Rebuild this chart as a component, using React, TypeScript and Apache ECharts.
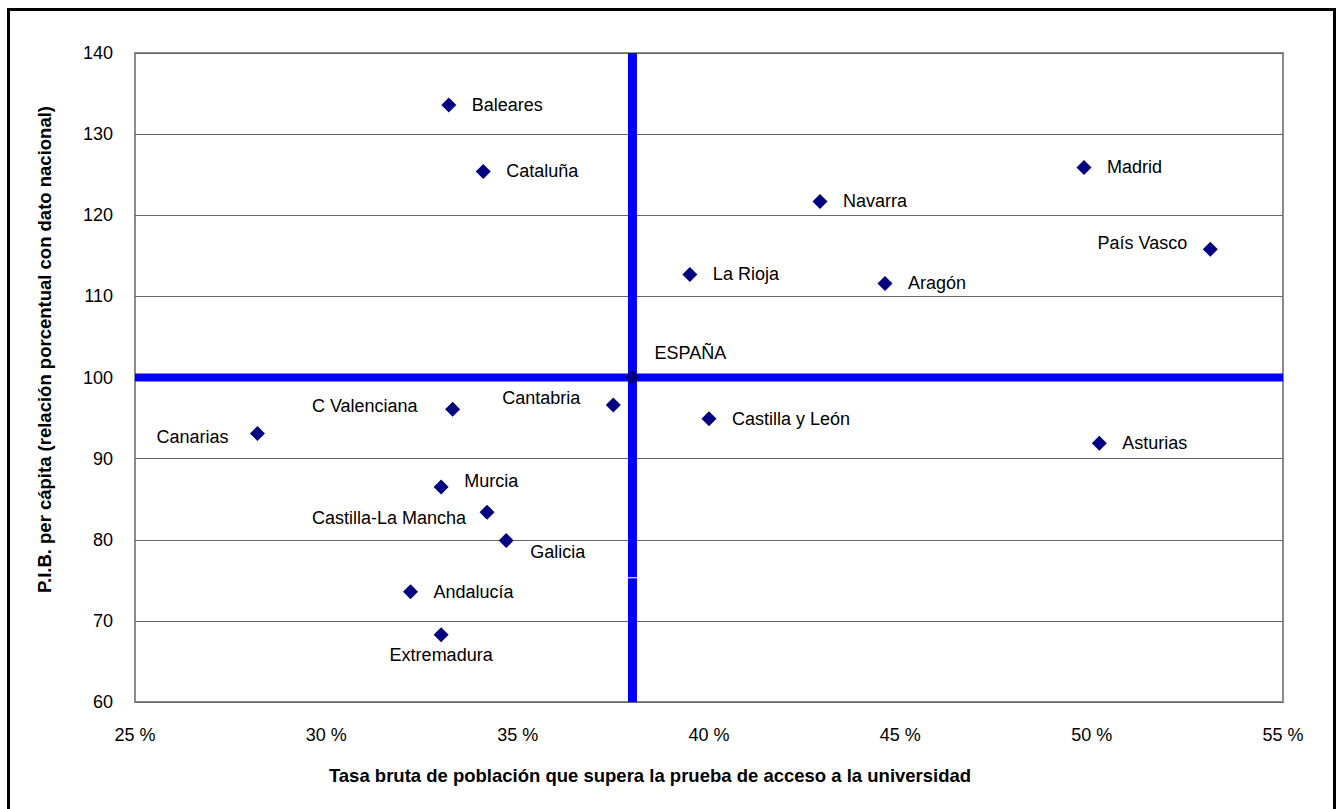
import React, { useEffect, useRef } from "react";
import * as echarts from "echarts";

const regions = [
  "Baleares", "Cataluña", "Madrid", "Navarra", "País Vasco", "La Rioja", "Aragón",
  "Cantabria", "C Valenciana", "Canarias", "Castilla y León", "Asturias", "Murcia",
  "Castilla-La Mancha", "Galicia", "Andalucía", "Extremadura",
];
const accessRate = [
  33.2, 34.1, 49.8, 42.9, 53.1, 39.5, 44.6,
  37.5, 33.3, 28.2, 40.0, 50.2, 33.0,
  34.2, 34.7, 32.2, 33.0,
];
const gdpIndex = [
  133.6, 125.4, 125.9, 121.7, 115.8, 112.7, 111.6,
  96.6, 96.1, 93.1, 94.9, 91.9, 86.5,
  83.4, 79.9, 73.6, 68.3,
];
const spainLabel = "ESPAÑA";
const spainX = 38;
const spainY = 100;
const xTicks = [25, 30, 35, 40, 45, 50, 55];
const yTicks = [60, 70, 80, 90, 100, 110, 120, 130, 140];
const verticalBreak = 75.3;

const labelPlacement: Record<string, any> = {
  "País Vasco": { position: "left", distance: 15.5, offset: [0, -6] },
  "Cantabria": { position: "left", distance: 25.5, offset: [0, -7] },
  "C Valenciana": { position: "left", distance: 27.5, offset: [0, -3] },
  "Canarias": { position: "left", distance: 21.5, offset: [0, 4] },
  "Murcia": { position: "right", distance: 15.5, offset: [0, -6] },
  "Castilla-La Mancha": { position: "left", distance: 13.5, offset: [0, 6] },
  "Galicia": { position: "right", distance: 16.5, offset: [0, 11] },
  "Extremadura": { position: "bottom", distance: 3.5, offset: [0, 0] },
  "ESPAÑA": { position: "right", distance: 14.5, offset: [0, -25] },
};

const FONT = "'Liberation Sans', Arial, sans-serif";

export default function App() {
  const ref = useRef<HTMLDivElement>(null);
  useEffect(() => {
    if (!ref.current) return;
    const chart = echarts.init(ref.current, undefined, { renderer: "svg" });
    const pointLabel = (name: string) => {
      const p = labelPlacement[name] || { position: "right", distance: 15.5, offset: [0, 0] };
      return {
        show: true,
        formatter: name,
        position: p.position,
        distance: p.distance,
        offset: p.offset,
        color: "#000",
        fontSize: 18,
        fontFamily: FONT,
      };
    };
    const points = regions.map((name, i) => ({
      name,
      value: [accessRate[i], gdpIndex[i]],
      label: pointLabel(name),
    }));
    points.push({
      name: spainLabel,
      value: [spainX, spainY],
      label: pointLabel(spainLabel),
    });
    const xMin = xTicks[0];
    const xMax = xTicks[xTicks.length - 1];
    const yMin = yTicks[0];
    const yMax = yTicks[yTicks.length - 1];
    chart.setOption({
      animation: false,
      backgroundColor: "#fff",
      textStyle: { fontFamily: FONT },
      grid: {
        left: 135,
        top: 53,
        right: 56,
        bottom: 107,
        show: true,
        borderColor: "#8c8c8c",
        borderWidth: 2,
        containLabel: false,
      },
      graphic: [
        {
          type: "rect",
          shape: { x: 8.5, y: 9.5, width: 1326, height: 850 },
          style: { fill: "none", stroke: "#000", lineWidth: 3 },
          silent: true,
        },
      ],
      xAxis: {
        type: "value",
        min: xMin,
        max: xMax,
        interval: 5,
        name: "Tasa bruta de población que supera la prueba de acceso a la universidad",
        nameLocation: "middle",
        nameGap: 64,
        nameTextStyle: {
          fontSize: 18.5,
          fontWeight: "bold",
          color: "#000",
          fontFamily: FONT,
          padding: [0, 118, 0, 0],
        },
        axisLine: { show: false },
        axisTick: { show: false },
        splitLine: { show: false },
        axisLabel: {
          formatter: "{value} %",
          fontSize: 18,
          color: "#000",
          margin: 24,
          fontFamily: FONT,
        },
      },
      yAxis: {
        type: "value",
        min: yMin,
        max: yMax,
        interval: 10,
        name: "P.I.B. per cápita (relación porcentual con dato nacional)",
        nameLocation: "middle",
        nameGap: 81,
        nameRotate: 90,
        nameTextStyle: {
          fontSize: 18.5,
          fontWeight: "bold",
          color: "#000",
          fontFamily: FONT,
          padding: [0, 0, 0, 56],
        },
        axisLine: { show: false },
        axisTick: { show: false },
        splitLine: { show: true, lineStyle: { color: "#666", width: 1 } },
        axisLabel: {
          fontSize: 18,
          color: "#000",
          margin: 22,
          fontFamily: FONT,
        },
      },
      series: [
        {
          type: "line",
          data: [[xMin, spainY], [xMax, spainY]],
          symbol: "none",
          lineStyle: { color: "#0000ff", width: 8, cap: "butt" },
          z: 3,
          silent: true,
        },
        {
          type: "line",
          data: [[spainX, yMin], [spainX, verticalBreak - 0.05]],
          symbol: "none",
          lineStyle: { color: "#0000ff", width: 9, cap: "butt" },
          z: 3,
          silent: true,
        },
        {
          type: "line",
          data: [[spainX, verticalBreak + 0.07], [spainX, yMax]],
          symbol: "none",
          lineStyle: { color: "#0000ff", width: 9, cap: "butt" },
          z: 3,
          silent: true,
        },
        {
          type: "scatter",
          data: points,
          symbol: "diamond",
          symbolSize: 15,
          itemStyle: { color: "#000080", opacity: 1 },
          z: 5,
        },
      ],
    });
    return () => chart.dispose();
  }, []);
  return (
    <div
      ref={ref}
      style={{ position: "fixed", left: 0, top: 0, width: 1339, height: 809 }}
    />
  );
}
